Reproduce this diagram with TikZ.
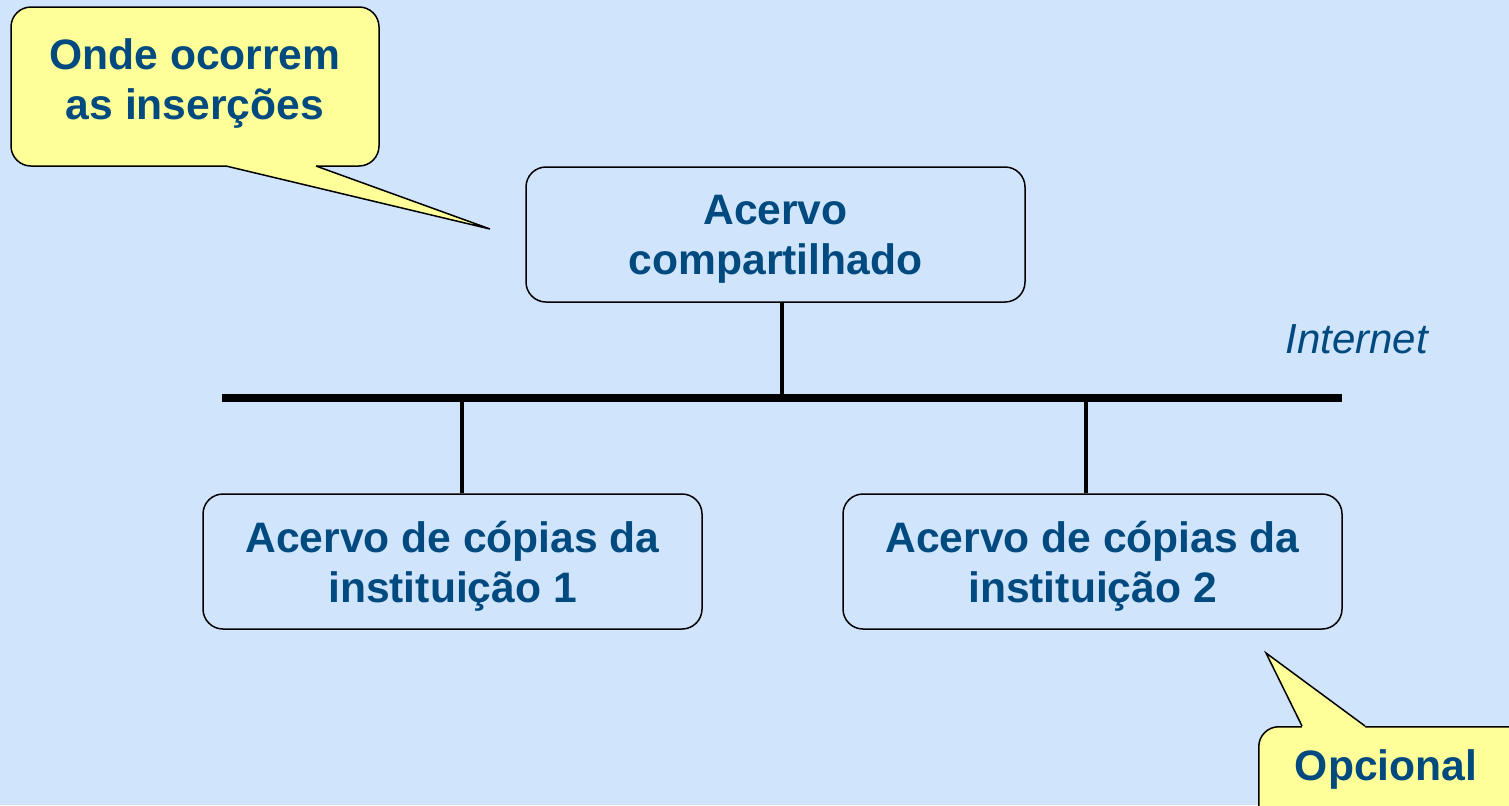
\documentclass[tikz,border=0pt]{standalone}
\usepackage{fontspec}
\setmainfont{Liberation Sans}
\usetikzlibrary{positioning}
\definecolor{bgblue}{RGB}{208,228,252}
\definecolor{txtblue}{RGB}{0,74,127}
\definecolor{noteyellow}{RGB}{255,255,153}

\begin{document}
\begin{tikzpicture}[x=0.5pt, y=-0.5pt,
    acervo/.style={draw=black, line width=0.75pt, rounded corners=10pt,
      minimum width=249.5pt, minimum height=67.5pt, align=center, text depth=0pt,
      text=txtblue, font=\fontsize{21.3}{25}\selectfont\bfseries},
    notebox/.style={draw=black, line width=0.75pt, fill=noteyellow, rounded corners=10pt},
    notetext/.style={align=center, text=txtblue, font=\fontsize{21.3}{25}\selectfont\bfseries},
    link/.style={line width=2pt}
  ]

    \useasboundingbox (0,0) rectangle (1509,805);
    \fill[bgblue] (0,0) rectangle (1509,805);
    \clip (0,0) rectangle (1509,805);

    % acervos
    \node[acervo] (comp) at (775.5,234.5) {Acervo\\compartilhado};
    \node[acervo] (inst1) at (452.5,561.5) {Acervo de cópias da\\instituição 1};
    \node[acervo] (inst2) at (1092.5,561.5) {Acervo de cópias da\\instituição 2};

    % internet
    \coordinate (busL) at (222,398);
    \coordinate (busR) at (1342,398);
    \draw[line width=4pt] (busL) -- (busR);
    \node[anchor=base west, inner sep=0, text=txtblue, font=\fontsize{21}{25}\selectfont\itshape] (inet) at (1285,353) {Internet};

    \draw[link] ([xshift=3.25pt]comp.south) -- ([xshift=3.25pt]comp.south |- busL);
    \draw[link] ([xshift=4.75pt]inst1.north) -- ([xshift=4.75pt]inst1.north |- busL);
    \draw[link] ([xshift=-3.25pt]inst2.north) -- ([xshift=-3.25pt]inst2.north |- busL);

    % balao: insercoes
    \node[notebox, minimum width=184pt, minimum height=79.5pt] (insbox) at (195,86.5) {};
    \coordinate (insL) at (226,166);
    \coordinate (insR) at (316,166);
    \coordinate (insTip) at (490,229);
    \fill[noteyellow] (insL) -- (insTip) -- (insR) -- ++(0,-3) -| (insL);
    \draw[line width=0.75pt, line join=miter] (insL) -- (insTip) -- (insR);
    \node[notetext] (instext) at (195,83) {Onde ocorrem\\as inserções};

    % balao: opcional
    \node[notebox, anchor=north west, minimum width=141pt, minimum height=57pt] (optbox) at (1258,726) {};
    \coordinate (optL) at (1302,726);
    \coordinate (optR) at (1365,726);
    \coordinate (optTip) at (1266,653);
    \fill[noteyellow] (optL) -- (optTip) -- (optR) -- ++(0,3) -| (optL);
    \draw[line width=0.75pt, line join=miter] (optL) -- (optTip) -- (optR);
    \node[notetext, anchor=base] (opttext) at (1386,780) {Opcional};

\end{tikzpicture}
\end{document}
